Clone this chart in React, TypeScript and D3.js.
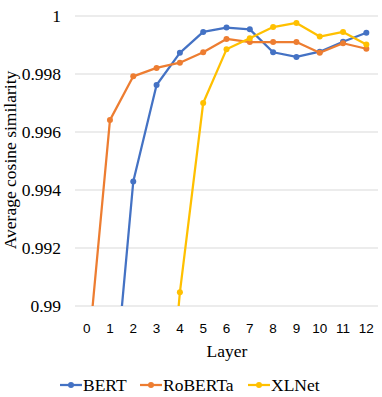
import React from "react";
import * as d3 from "d3";

const layers = ["0", "1", "2", "3", "4", "5", "6", "7", "8", "9", "10", "11", "12"];
const bert = [0.976, 0.98546, 0.99429, 0.99762, 0.99873, 0.99945, 0.9996, 0.99954, 0.99875, 0.99859, 0.99877, 0.99911, 0.99942];
const roberta = [0.98779, 0.99641, 0.99792, 0.99821, 0.99839, 0.99875, 0.99921, 0.9991, 0.9991, 0.9991, 0.99873, 0.99906, 0.99887];
const xlnet = [0.968, 0.971, 0.975, 0.98134, 0.99047, 0.997, 0.99885, 0.99923, 0.99962, 0.99976, 0.99929, 0.99945, 0.99902];
const yTicks = [0.99, 0.992, 0.994, 0.996, 0.998, 1];
const seriesNames = ["BERT", "RoBERTa", "XLNet"];
const colors = ["#4472C4", "#ED7D31", "#FFC000"];

const width = 382;
const height = 397;
const left = 75;
const right = 378;
const top = 16;
const bottom = 306;
const sans = "'Liberation Sans', sans-serif";

const x = d3.scalePoint().domain(layers).range([left, right]).padding(0.5);
const y = d3.scaleLinear().domain([0.99, 1]).range([bottom, top]);
const line = d3
  .line<number>()
  .x((_, i) => x(layers[i])!)
  .y((d) => y(d));

const legendX = [60, 140, 248];

// serif texts inherit the page's default serif font
const App = () => {
  return (
    <svg width={width} height={height} style={{ position: "absolute", left: 0, top: 0 }}>
      <defs>
        <clipPath id="plot-clip">
          <rect x={0} y={0} width={width} height={bottom} />
        </clipPath>
      </defs>
      {yTicks.map((t) => (
        <line key={t} x1={left} x2={right} y1={y(t)} y2={y(t)} stroke="#d9d9d9" strokeWidth={1} />
      ))}
      {yTicks.map((t) => (
        <text key={t} x={61} y={y(t) + 6} textAnchor="end" fontSize={17.5} fill="#000">
          {String(t)}
        </text>
      ))}
      {layers.map((l) => (
        <text key={l} x={x(l)} y={333} textAnchor="middle" fontFamily={sans} fontSize={13.5} fill="#000">
          {l}
        </text>
      ))}
      <text x={227} y={357} textAnchor="middle" fontSize={17.5}>
        Layer
      </text>
      <text transform="translate(16,160) rotate(-90)" textAnchor="middle" fontSize={17.5}>
        Average cosine similarity
      </text>
      <g clipPath="url(#plot-clip)">
        {[bert, roberta, xlnet].map((vals, s) => (
          <g key={s}>
            <path d={line(vals) ?? ""} fill="none" stroke={colors[s]} strokeWidth={2.25} strokeLinejoin="round" />
            {vals.map((v, i) => (
              <circle key={i} cx={x(layers[i])} cy={y(v)} r={3} fill={colors[s]} />
            ))}
          </g>
        ))}
      </g>
      {seriesNames.map((name, s) => (
        <g key={name} transform={`translate(${legendX[s]},385)`}>
          <line x1={0} x2={22} stroke={colors[s]} strokeWidth={2.25} />
          <circle cx={11} r={3} fill={colors[s]} />
          <text x={23} y={6} fontSize={17.5}>
            {name}
          </text>
        </g>
      ))}
    </svg>
  );
};

export default App;
